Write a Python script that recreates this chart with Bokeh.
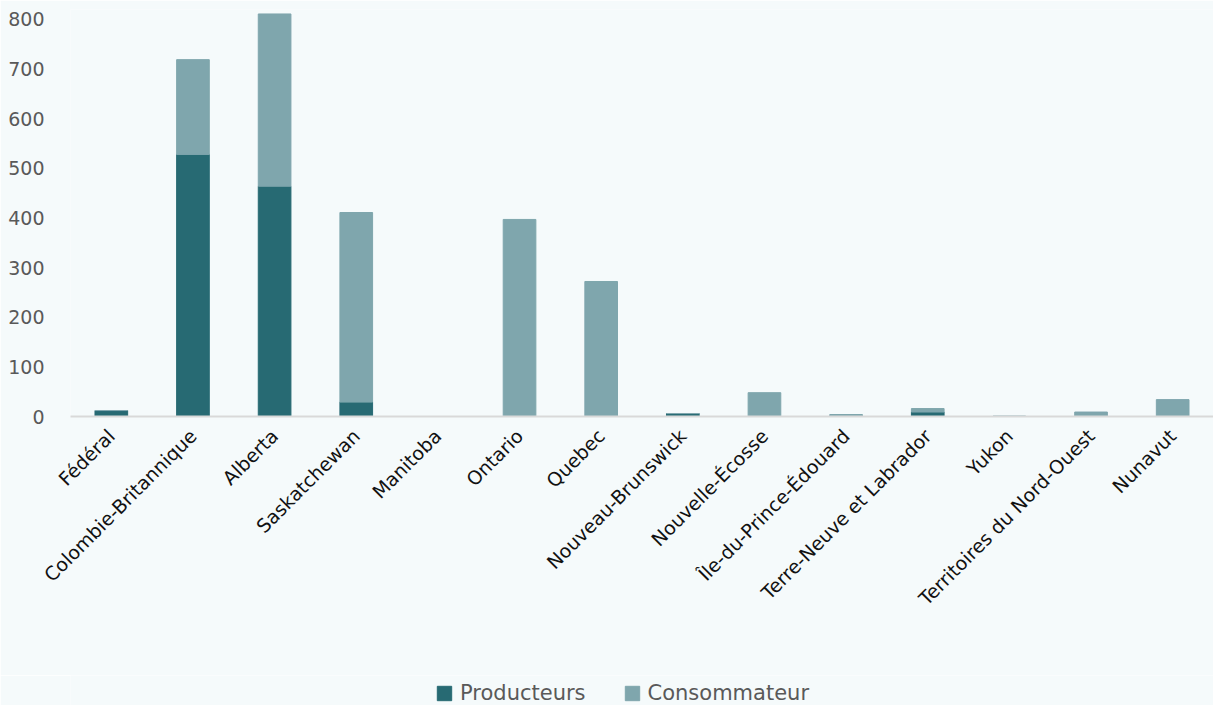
from bokeh.plotting import figure
from bokeh.models import ColumnDataSource, Legend, LegendItem, Range1d
from bokeh.layouts import column
from bokeh.embed import file_html
from bokeh.resources import INLINE
import math

categories = ["Fédéral", "Colombie-Britannique", "Alberta", "Saskatchewan", "Manitoba",
              "Ontario", "Quebec", "Nouveau-Brunswick", "Nouvelle-Écosse",
              "Île-du-Prince-Édouard", "Terre-Neuve et Labrador", "Yukon",
              "Territoires du Nord-Ouest", "Nunavut"]
producteurs = [12, 528, 464, 29, 0, 0, 0, 6, 0, 0, 9, 0, 0, 0]
consommateur = [0, 191, 347, 382, 0, 397, 272, 0, 48, 4, 7, 1, 9, 34]
series = ["Producteurs", "Consommateur"]
colors = ["#276a73", "#7fa6ad"]
yticks = [0, 100, 200, 300, 400, 500, 600, 700, 800]

src = ColumnDataSource(dict(cat=categories, Producteurs=producteurs, Consommateur=consommateur))

BG = "#f5fafb"
FONT = "DejaVu Sans"

p = figure(x_range=categories, y_range=Range1d(0, 820), width=1213, height=675,
           output_backend="svg", toolbar_location=None,
           background_fill_color=BG, border_fill_color=BG,
           min_border_left=70, min_border_right=0, min_border_top=9, min_border_bottom=259)
p.outline_line_color = None

r = p.vbar_stack(series, x="cat", width=0.4, source=src, color=colors, line_color=colors)

p.xgrid.grid_line_color = None
p.ygrid.grid_line_color = None
p.yaxis.ticker = yticks
p.yaxis.axis_line_color = None
p.yaxis.major_tick_line_color = None
p.yaxis.minor_tick_line_color = None
p.yaxis.major_label_text_font = FONT
p.yaxis.major_label_text_font_size = "19px"
p.yaxis.major_label_text_color = "#595959"
p.yaxis.major_label_standoff = 20

p.xaxis.axis_line_color = "#d9d9d9"
p.xaxis.axis_line_width = 2
p.xaxis.major_tick_line_color = None
p.xaxis.minor_tick_line_color = None
p.xaxis.major_label_orientation = math.pi / 4
p.xaxis.major_label_text_font = FONT
p.xaxis.major_label_text_font_size = "19px"
p.xaxis.major_label_text_color = "#111111"
p.xaxis.major_label_standoff = 10

# legend strip below the chart
lg = figure(width=1213, height=30, output_backend="svg", toolbar_location=None,
            x_range=Range1d(0, 1), y_range=Range1d(0, 1),
            x_axis_location=None, y_axis_location=None,
            background_fill_color=BG, border_fill_color=BG,
            min_border=0)
lg.outline_line_color = None
lg.grid.visible = False
lsrc = ColumnDataSource(dict(x=[-5.0], top=[-5.0]))
lr = [lg.vbar(x="x", top="top", width=0.1, source=lsrc, fill_color=c, line_color=c) for c in colors]

legend = Legend(items=[LegendItem(label=s, renderers=[rr]) for s, rr in zip(series, lr)],
                orientation="horizontal", location=(365, 0),
                background_fill_alpha=0, border_line_color=None,
                label_text_font=FONT, label_text_font_size="21px", label_text_color="#595959",
                glyph_width=18, glyph_height=18, label_standoff=7, spacing=37,
                margin=0, padding=0)
lg.add_layout(legend, "center")

layout = column(p, lg, spacing=0)
open("out.html", "w").write(file_html(layout, INLINE))
